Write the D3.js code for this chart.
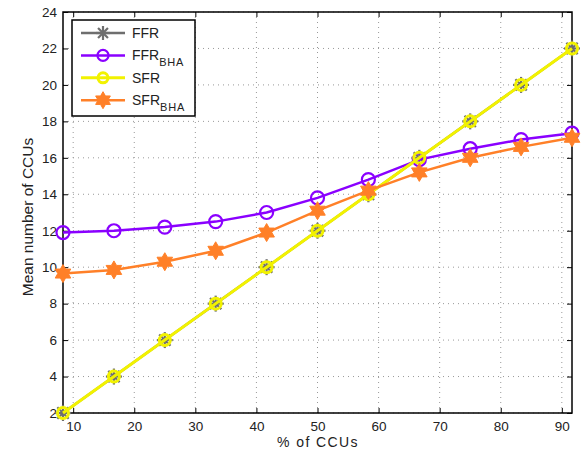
<!DOCTYPE html>
<html><head><meta charset="utf-8">
<script src="https://cdn.jsdelivr.net/npm/d3@7"></script>
<style>body{margin:0;background:#fff}svg{display:block}text{font-family:"Liberation Sans",Arial,sans-serif}</style>
</head><body><svg id="c" width="582" height="449"></svg>
<script>
const xValues = [8.33, 16.67, 25, 33.33, 41.67, 50, 58.33, 66.67, 75, 83.33, 91.67];
const ffr     = [2, 4, 6, 8, 10, 12, 14, 16, 18, 20, 22];
const ffrBha  = [11.9, 12.0, 12.2, 12.5, 13.0, 13.8, 14.8, 15.9, 16.5, 17.0, 17.35];
const sfr     = [2, 4, 6, 8, 10, 12, 14, 16, 18, 20, 22];
const sfrBha  = [9.65, 9.85, 10.3, 10.9, 11.9, 13.1, 14.2, 15.2, 16.0, 16.6, 17.1];
const xTicks = [10, 20, 30, 40, 50, 60, 70, 80, 90];
const yTicks = [2, 4, 6, 8, 10, 12, 14, 16, 18, 20, 22, 24];

const svg = d3.select("#c");
const L = 63, R = 572, T = 12, B = 413;
const x = d3.scaleLinear().domain([8.333, 91.667]).range([L, R]);
const y = d3.scaleLinear().domain([2, 24]).range([B, T]);

// grid
const g = svg.append("g");
g.selectAll(".gx").data(xTicks).join("line")
  .attr("x1", d => x(d)).attr("x2", d => x(d)).attr("y1", T).attr("y2", B)
  .attr("stroke", "#999").attr("stroke-width", 1).attr("stroke-dasharray", "1,4");
g.selectAll(".gy").data(yTicks).join("line")
  .attr("y1", d => y(d)).attr("y2", d => y(d)).attr("x1", L).attr("x2", R)
  .attr("stroke", "#999").attr("stroke-width", 1).attr("stroke-dasharray", "1,4");

// axes
const ax = svg.append("g").attr("transform", `translate(0,${B})`)
  .call(d3.axisBottom(x).tickValues(xTicks).tickSizeInner(-5).tickSizeOuter(0).tickPadding(8));
const axT = svg.append("g").attr("transform", `translate(0,${T})`)
  .call(d3.axisTop(x).tickValues(xTicks).tickSizeInner(-5).tickSizeOuter(0).tickFormat(""));
const ay = svg.append("g").attr("transform", `translate(${L},0)`)
  .call(d3.axisLeft(y).tickValues(yTicks).tickSizeInner(-5).tickSizeOuter(0).tickPadding(6));
const ayR = svg.append("g").attr("transform", `translate(${R},0)`)
  .call(d3.axisRight(y).tickValues(yTicks).tickSizeInner(-5).tickSizeOuter(0).tickFormat(""));
[ax, axT, ay, ayR].forEach(a => {
  a.select(".domain").remove();
  a.selectAll("line").attr("stroke", "#000");
  a.selectAll("text").attr("font-size", 13.5).attr("fill", "#222").attr("font-family", '"Liberation Sans",Arial,sans-serif');
});
svg.append("rect").attr("x", L).attr("y", T).attr("width", R - L).attr("height", B - T)
  .attr("fill", "none").attr("stroke", "#000").attr("stroke-width", 1.5);

// labels
svg.append("text").attr("x", 318).attr("y", 446.5).attr("text-anchor", "middle")
  .attr("font-size", 14).attr("letter-spacing", 1.4).attr("fill", "#222").text("% of CCUs");
svg.append("text").attr("transform", `translate(33,217) rotate(-90)`).attr("text-anchor", "middle")
  .attr("font-size", 15.5).attr("fill", "#222").text("Mean number of CCUs");

// marker helpers
function asterisk(sel, cx, cy, r, color) {
  for (let k = 0; k < 4; k++) {
    const a = k * Math.PI / 4;
    sel.append("line").attr("x1", cx - r * Math.cos(a)).attr("y1", cy - r * Math.sin(a))
      .attr("x2", cx + r * Math.cos(a)).attr("y2", cy + r * Math.sin(a))
      .attr("stroke", color).attr("stroke-width", 2.2);
  }
}
function hexagram(r) {
  const pts = [];
  for (let k = 0; k < 12; k++) {
    const rr = k % 2 === 0 ? r : r / Math.sqrt(3);
    const a = -Math.PI / 2 + k * Math.PI / 6;
    pts.push([rr * Math.cos(a), rr * Math.sin(a)]);
  }
  return "M" + pts.map(p => p.join(",")).join("L") + "Z";
}
const line = d3.line().x(d => x(d[0])).y(d => y(d[1]));
const zip = vals => xValues.map((v, i) => [v, vals[i]]);

const cFFR = "#6e6e6e", cFB = "#8a00ff", cSFR = "#f2f200", cSB = "#ff8028";
const plot = svg.append("g");
// FFR
plot.append("path").attr("d", line(zip(ffr))).attr("fill", "none").attr("stroke", cFFR).attr("stroke-width", 2.5);
zip(ffr).forEach(d => asterisk(plot, x(d[0]), y(d[1]), 8, cFFR));
// FFR_BHA
plot.append("path").attr("d", line(zip(ffrBha))).attr("fill", "none").attr("stroke", cFB).attr("stroke-width", 2.5);
plot.selectAll(".fb").data(zip(ffrBha)).join("circle").attr("cx", d => x(d[0])).attr("cy", d => y(d[1]))
  .attr("r", 6.5).attr("fill", "none").attr("stroke", cFB).attr("stroke-width", 2.2);
// SFR
plot.append("path").attr("d", line(zip(sfr))).attr("fill", "none").attr("stroke", cSFR).attr("stroke-width", 3);
plot.selectAll(".sf").data(zip(sfr)).join("circle").attr("cx", d => x(d[0])).attr("cy", d => y(d[1]))
  .attr("r", 5.5).attr("fill", "none").attr("stroke", cSFR).attr("stroke-width", 3);
// SFR_BHA
plot.append("path").attr("d", line(zip(sfrBha))).attr("fill", "none").attr("stroke", cSB).attr("stroke-width", 2.5);
plot.selectAll(".sb").data(zip(sfrBha)).join("path").attr("d", hexagram(9))
  .attr("transform", d => `translate(${x(d[0])},${y(d[1])})`).attr("fill", cSB).attr("stroke", cSB).attr("stroke-width", 1);

// legend
const lg = svg.append("g");
lg.append("rect").attr("x", 72).attr("y", 20).attr("width", 123).attr("height", 96)
  .attr("fill", "#fff").attr("stroke", "#000").attr("stroke-width", 1.5);
const legendItems = [
  { name: "FFR", sub: "", color: cFFR, mk: "ast" },
  { name: "FFR", sub: "BHA", color: cFB, mk: "circ" },
  { name: "SFR", sub: "", color: cSFR, mk: "ycirc" },
  { name: "SFR", sub: "BHA", color: cSB, mk: "hex" }
];
legendItems.forEach((it, i) => {
  const yy = 33 + i * 22.4;
  lg.append("line").attr("x1", 81).attr("x2", 125).attr("y1", yy).attr("y2", yy)
    .attr("stroke", it.color).attr("stroke-width", it.mk === "ycirc" ? 3 : 2.5);
  const cx = 103;
  if (it.mk === "ast") asterisk(lg, cx, yy, 7, it.color);
  else if (it.mk === "circ") lg.append("circle").attr("cx", cx).attr("cy", yy).attr("r", 5.5).attr("fill", "none").attr("stroke", it.color).attr("stroke-width", 2.2);
  else if (it.mk === "ycirc") lg.append("circle").attr("cx", cx).attr("cy", yy).attr("r", 5).attr("fill", "none").attr("stroke", it.color).attr("stroke-width", 3);
  else lg.append("path").attr("d", hexagram(8.5)).attr("transform", `translate(${cx},${yy})`).attr("fill", it.color).attr("stroke", it.color);
  const t = lg.append("text").attr("x", 132).attr("y", yy + 5).attr("font-size", 14).attr("fill", "#222").text(it.name);
  if (it.sub) t.append("tspan").attr("dy", 6).attr("font-size", 11).attr("letter-spacing", 0.8).text(it.sub);
});
</script></body></html>
